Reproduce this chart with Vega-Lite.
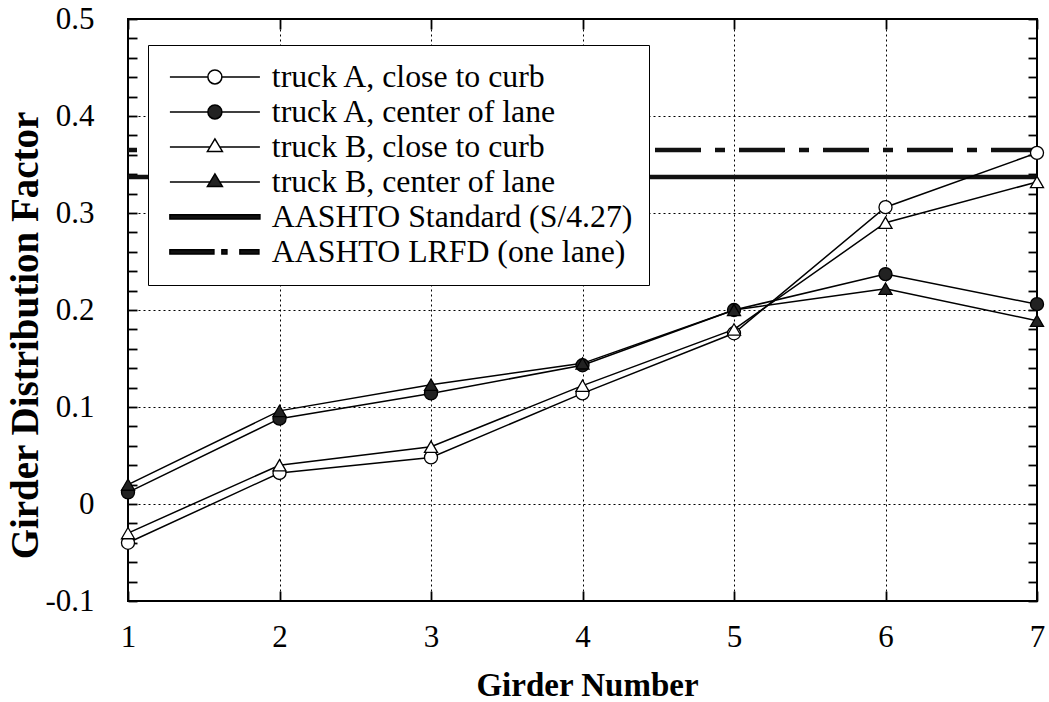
{
  "$schema": "https://vega.github.io/schema/vega-lite/v6.json",
  "width": 909,
  "height": 582,
  "autosize": {"type": "none"},
  "padding": {"left": 128, "top": 19, "right": 12, "bottom": 101},
  "background": "white",
  "config": {
    "view": {"stroke": "black", "strokeWidth": 2},
    "font": "Liberation Serif",
    "axis": {
      "ticks": true,
      "domain": false,
      "tickColor": "black",
      "tickWidth": 1.8,
      "tickOpacity": 1,
      "gridColor": "black",
      "gridDash": [2, 3],
      "gridWidth": 1,
      "labelFont": "Liberation Serif",
      "labelColor": "black",
      "titleFont": "Liberation Serif",
      "titleColor": "black",
      "titleFontWeight": "bold"
    },
    "legend": {
      "orient": "none", "legendX": 20, "legendY": 26, "title": null, "direction": "vertical",
      "strokeColor": "black", "fillColor": "white", "padding": 16,
      "symbolSize": 400, "symbolStrokeColor": "black", "symbolStrokeWidth": 1.5, "symbolOpacity": 1,
      "symbolOffset": 35, "labelOffset": 41,
      "labelFont": "Liberation Serif", "labelFontSize": 31.8, "labelColor": "black", "labelLimit": 1000,
      "rowPadding": 2
    }
  },
  "datasets": {
    "girders": [
      {"girder": 1, "series": "truck A, close to curb", "value": -0.040},
      {"girder": 2, "series": "truck A, close to curb", "value": 0.032},
      {"girder": 3, "series": "truck A, close to curb", "value": 0.048},
      {"girder": 4, "series": "truck A, close to curb", "value": 0.114},
      {"girder": 5, "series": "truck A, close to curb", "value": 0.176},
      {"girder": 6, "series": "truck A, close to curb", "value": 0.306},
      {"girder": 7, "series": "truck A, close to curb", "value": 0.362},
      {"girder": 1, "series": "truck A, center of lane", "value": 0.012},
      {"girder": 2, "series": "truck A, center of lane", "value": 0.088},
      {"girder": 3, "series": "truck A, center of lane", "value": 0.114},
      {"girder": 4, "series": "truck A, center of lane", "value": 0.143},
      {"girder": 5, "series": "truck A, center of lane", "value": 0.200},
      {"girder": 6, "series": "truck A, center of lane", "value": 0.237},
      {"girder": 7, "series": "truck A, center of lane", "value": 0.206},
      {"girder": 1, "series": "truck B, close to curb", "value": -0.030},
      {"girder": 2, "series": "truck B, close to curb", "value": 0.040},
      {"girder": 3, "series": "truck B, close to curb", "value": 0.059},
      {"girder": 4, "series": "truck B, close to curb", "value": 0.122},
      {"girder": 5, "series": "truck B, close to curb", "value": 0.180},
      {"girder": 6, "series": "truck B, close to curb", "value": 0.290},
      {"girder": 7, "series": "truck B, close to curb", "value": 0.332},
      {"girder": 1, "series": "truck B, center of lane", "value": 0.020},
      {"girder": 2, "series": "truck B, center of lane", "value": 0.096},
      {"girder": 3, "series": "truck B, center of lane", "value": 0.123},
      {"girder": 4, "series": "truck B, center of lane", "value": 0.145},
      {"girder": 5, "series": "truck B, center of lane", "value": 0.200},
      {"girder": 6, "series": "truck B, center of lane", "value": 0.222},
      {"girder": 7, "series": "truck B, center of lane", "value": 0.189}
    ],
    "aashto": [
      {"series": "AASHTO Standard (S/4.27)", "value": 0.337},
      {"series": "AASHTO LRFD (one lane)", "value": 0.365}
    ]
  },
  "layer": [
    {
      "data": {"name": "aashto"},
      "mark": {"type": "rule", "stroke": "#111", "strokeWidth": 4.5},
      "encoding": {
        "y": {"field": "value", "type": "quantitative", "scale": {"domain": [-0.1, 0.5], "nice": false, "zero": false}, "axis": null},
        "strokeDash": {"condition": {"test": "indexof(datum.series,'LRFD')>=0", "value": [46, 14, 10, 14]}, "value": [1, 0]}
      }
    },
    {
      "data": {"name": "girders"},
      "mark": {"type": "line", "stroke": "black", "strokeWidth": 1.5},
      "encoding": {
        "x": {
          "field": "girder", "type": "quantitative",
          "scale": {"domain": [1, 7], "nice": false, "zero": false},
          "axis": {
            "orient": "bottom", "values": [1, 2, 3, 4, 5, 6, 7], "grid": true, "ticks": true,
            "offset": -10, "tickSize": 10, "labelPadding": 21, "labelFontSize": 31, "labelFlush": false,
            "title": "Girder Number", "titleFontSize": 33,
            "titleX": 459, "titleY": 104, "titleBaseline": "alphabetic", "titleAlign": "center"
          }
        },
        "y": {
          "field": "value", "type": "quantitative",
          "scale": {"domain": [-0.1, 0.5], "nice": false, "zero": false},
          "axis": {
            "orient": "left", "ticks": true,
            "values": [-0.1, -0.08, -0.06, -0.04, -0.02, 0, 0.02, 0.04, 0.06, 0.08, 0.1, 0.12, 0.14, 0.16, 0.18, 0.2, 0.22, 0.24, 0.26, 0.28, 0.3, 0.32, 0.34, 0.36, 0.38, 0.4, 0.42, 0.44, 0.46, 0.48, 0.5],
            "labelExpr": "round(datum.value*100)%10==0 ? toString(round(datum.value*10)/10) : ''",
            "grid": true,
            "gridOpacity": {"condition": {"test": "round(datum.value*100)%10==0", "value": 1}, "value": 0},
            "offset": -9, "tickSize": 9, "labelPadding": 34, "labelFontSize": 31, "labelFlush": false,
            "title": "Girder Distribution Factor", "titleFontSize": 39,
            "titleX": -100, "titleY": 316, "titleBaseline": "alphabetic", "titleAlign": "center", "titleAngle": -90
          }
        },
        "detail": {"field": "series", "type": "nominal"}
      }
    },
    {
      "data": {"name": "girders"},
      "mark": {"type": "point", "size": 170, "stroke": "black", "strokeWidth": 1.3, "opacity": 1},
      "encoding": {
        "x": {
          "field": "girder", "type": "quantitative",
          "scale": {"domain": [1, 7], "nice": false, "zero": false},
          "axis": {"orient": "top", "values": [1, 2, 3, 4, 5, 6, 7], "grid": false, "labels": false, "ticks": true, "title": null, "offset": -10, "tickSize": 10}
        },
        "y": {
          "field": "value", "type": "quantitative",
          "scale": {"domain": [-0.1, 0.5], "nice": false, "zero": false},
          "axis": {
            "orient": "right", "grid": false, "labels": false, "ticks": true, "title": null, "offset": -9, "tickSize": 9,
            "values": [-0.1, -0.08, -0.06, -0.04, -0.02, 0, 0.02, 0.04, 0.06, 0.08, 0.1, 0.12, 0.14, 0.16, 0.18, 0.2, 0.22, 0.24, 0.26, 0.28, 0.3, 0.32, 0.34, 0.36, 0.38, 0.4, 0.42, 0.44, 0.46, 0.48, 0.5]
          }
        },
        "shape": {"condition": {"test": "indexof(datum.series,'truck B')>=0", "value": "triangle-up"}, "value": "circle"},
        "fill": {"condition": {"test": "indexof(datum.series,'center')>=0", "value": "#222"}, "value": "white"}
      }
    },
    {
      "data": {"name": "girders"},
      "transform": [{"filter": "false"}],
      "mark": {"type": "point", "filled": true, "strokeWidth": 1.5, "opacity": 1},
      "encoding": {
        "shape": {
          "field": "series", "type": "nominal",
          "scale": {
            "domain": ["truck A, close to curb", "truck A, center of lane", "truck B, close to curb", "truck B, center of lane", "AASHTO Standard (S/4.27)", "AASHTO LRFD (one lane)"],
            "range": [
              "M-4.5,0H-0.7M0.7,0H4.5M-0.7,0A0.7,0.7 0 1,1 0.7,0A0.7,0.7 0 1,1 -0.7,0Z",
              "M-4.5,0H-0.7M0.7,0H4.5M-0.7,0A0.7,0.7 0 1,1 0.7,0A0.7,0.7 0 1,1 -0.7,0Z",
              "M-4.5,0H-0.48M0.48,0H4.5M0,-0.8L0.75,0.45L-0.75,0.45Z",
              "M-4.5,0H-0.48M0.48,0H4.5M0,-0.8L0.75,0.45L-0.75,0.45Z",
              "M-4.5,-0.22H4.5V0.22H-4.5Z",
              "M-4.5,-0.22H-0.1V0.22H-4.5ZM0.7,-0.22H1.2V0.22H0.7ZM2.5,-0.22H4.4V0.22H2.5Z"
            ]
          }
        },
        "fill": {
          "field": "series", "type": "nominal",
          "scale": {
            "domain": ["truck A, close to curb", "truck A, center of lane", "truck B, close to curb", "truck B, center of lane", "AASHTO Standard (S/4.27)", "AASHTO LRFD (one lane)"],
            "range": ["white", "#222", "white", "#222", "#111", "#111"]
          }
        },
        "stroke": {
          "field": "series", "type": "nominal",
          "scale": {
            "domain": ["truck A, close to curb", "truck A, center of lane", "truck B, close to curb", "truck B, center of lane", "AASHTO Standard (S/4.27)", "AASHTO LRFD (one lane)"],
            "range": ["black", "black", "black", "black", "black", "black"]
          }
        }
      }
    }
  ],
  "resolve": {"axis": {"x": "independent", "y": "independent"}}
}
